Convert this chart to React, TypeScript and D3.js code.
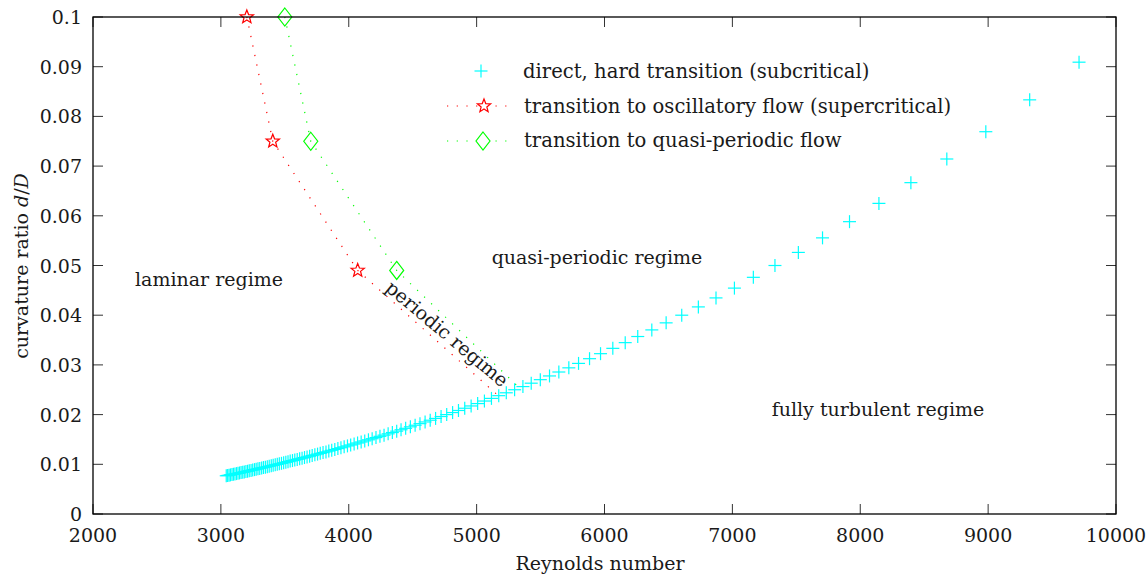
import React from "react";
import * as d3 from "d3";

// ---- data ----
const subcriticalRe = [
  9711, 9325, 8982, 8677, 8396, 8146, 7916, 7705, 7516, 7333,
  7164, 7016, 6872, 6734, 6604, 6482, 6370, 6260, 6162, 6065,
  5969, 5883, 5797, 5721, 5643, 5570, 5498, 5427, 5362, 5297,
  5232, 5173, 5116, 5061, 5008, 4957, 4907, 4858, 4812, 4766,
  4722, 4679, 4637, 4597, 4557, 4519, 4482, 4445, 4409, 4375,
  4341, 4308, 4276, 4244, 4213, 4183, 4154, 4125, 4097, 4069,
  4042, 4015, 3990, 3964, 3939, 3915, 3891, 3867, 3844, 3822,
  3799, 3777, 3756, 3735, 3714, 3694, 3674, 3654, 3635, 3616,
  3597, 3578, 3560, 3542, 3525, 3508, 3491, 3474, 3457, 3441,
  3425, 3409, 3394, 3378, 3363, 3348, 3333, 3319, 3304, 3290,
  3276, 3263, 3249, 3236, 3222, 3209, 3196, 3183, 3171, 3158,
  3146, 3134, 3122, 3110, 3098, 3087, 3075, 3064, 3053, 3042,
];
const subcriticalRatio = [
  0.09091, 0.08333, 0.07692, 0.07143, 0.06667, 0.0625, 0.05882, 0.05556, 0.05263, 0.05,
  0.04762, 0.04545, 0.04348, 0.04167, 0.04, 0.03846, 0.03704, 0.03571, 0.03448, 0.03333,
  0.03226, 0.03125, 0.0303, 0.02941, 0.02857, 0.02778, 0.02703, 0.02632, 0.02564, 0.025,
  0.02439, 0.02381, 0.02326, 0.02273, 0.02222, 0.02174, 0.02128, 0.02083, 0.02041, 0.02,
  0.01961, 0.01923, 0.01887, 0.01852, 0.01818, 0.01786, 0.01754, 0.01724, 0.01695, 0.01667,
  0.01639, 0.01613, 0.01587, 0.01563, 0.01538, 0.01515, 0.01493, 0.01471, 0.01449, 0.01429,
  0.01408, 0.01389, 0.0137, 0.01351, 0.01333, 0.01316, 0.01299, 0.01282, 0.01266, 0.0125,
  0.01235, 0.0122, 0.01205, 0.0119, 0.01176, 0.01163, 0.01149, 0.01136, 0.01124, 0.01111,
  0.01099, 0.01087, 0.01075, 0.01064, 0.01053, 0.01042, 0.01031, 0.0102, 0.0101, 0.01,
  0.0099, 0.0098, 0.00971, 0.00962, 0.00952, 0.00943, 0.00935, 0.00926, 0.00917, 0.00909,
  0.00901, 0.00893, 0.00885, 0.00877, 0.0087, 0.00862, 0.00855, 0.00847, 0.0084, 0.00833,
  0.00826, 0.0082, 0.00813, 0.00806, 0.008, 0.00794, 0.00787, 0.00781, 0.00775, 0.00769,
];

// transition to oscillatory flow (supercritical); last point meets subcritical curve (no marker)
const oscillatoryRe = [3203, 3406, 4070, 5170];
const oscillatoryRatio = [0.1, 0.075, 0.049, 0.0238];
const oscillatoryMarked = [true, true, true, false];

// transition to quasi-periodic flow
const quasiRe = [3500, 3703, 4375, 5330];
const quasiRatio = [0.1, 0.075, 0.049, 0.0255];
const quasiMarked = [true, true, true, false];

const xTicks = [2000, 3000, 4000, 5000, 6000, 7000, 8000, 9000, 10000];
const yTicks = [0, 0.01, 0.02, 0.03, 0.04, 0.05, 0.06, 0.07, 0.08, 0.09, 0.1];
const yTickLabels = ["0", "0.01", "0.02", "0.03", "0.04", "0.05", "0.06", "0.07", "0.08", "0.09", "0.1"];

const legendLabels = [
  "direct, hard transition (subcritical)",
  "transition to oscillatory flow (supercritical)",
  "transition to quasi-periodic flow",
];

// ---- layout ----
const W = 1148;
const H = 574;
const L = 93, R = 1116, T = 17, B = 514;
const FONT = "'DejaVu Serif', serif";
const FS = 19;
const FS_LEG = 19.6;
const CYAN = "#00ffff";
const RED = "#ff0000";
const GREEN = "#00ff00";
const INK = "#1a1a1a";

const x = d3.scaleLinear().domain([2000, 10000]).range([L, R]);
const y = d3.scaleLinear().domain([0, 0.1]).range([B, T]);

function starPath(cx: number, cy: number, ro = 7, ri = 3): string {
  const pts: string[] = [];
  for (let i = 0; i < 10; i++) {
    const r = i % 2 === 0 ? ro : ri;
    const a = -Math.PI / 2 + (i * Math.PI) / 5;
    pts.push(`${(cx + r * Math.cos(a)).toFixed(2)},${(cy + r * Math.sin(a)).toFixed(2)}`);
  }
  return "M" + pts.join("L") + "Z";
}
function diamondPath(cx: number, cy: number, hw = 7, hh = 9): string {
  return `M${cx},${cy - hh}L${cx + hw},${cy}L${cx},${cy + hh}L${cx - hw},${cy}Z`;
}
function Cross({ cx, cy }: { cx: number; cy: number }) {
  const s = 6.5;
  return (
    <g stroke={CYAN} strokeWidth={1.2}>
      <line x1={cx - s} x2={cx + s} y1={cy} y2={cy} />
      <line x1={cx} x2={cx} y1={cy - s} y2={cy + s} />
    </g>
  );
}

export default function App() {
  const line = d3.line<[number, number]>().x((d) => x(d[0])).y((d) => y(d[1]));
  const oscPts = oscillatoryRe.map((r, i) => [r, oscillatoryRatio[i]] as [number, number]);
  const quasiPts = quasiRe.map((r, i) => [r, quasiRatio[i]] as [number, number]);
  const tickLen = 10;

  return (
    <svg
      width={W}
      height={H}
      style={{ position: "absolute", left: 0, top: 0, background: "#fff" }}
      fontFamily={FONT}
    >
      <rect x={0} y={0} width={W} height={H} fill="#fff" />
      {/* ticks */}
      <g stroke="#333" strokeWidth={1}>
        {xTicks.map((t) => (
          <g key={"xt" + t}>
            <line x1={x(t)} x2={x(t)} y1={B} y2={B - tickLen} />
            <line x1={x(t)} x2={x(t)} y1={T} y2={T + tickLen} />
          </g>
        ))}
        {yTicks.map((t) => (
          <g key={"yt" + t}>
            <line x1={L} x2={L + tickLen} y1={y(t)} y2={y(t)} />
            <line x1={R} x2={R - tickLen} y1={y(t)} y2={y(t)} />
          </g>
        ))}
      </g>
      {/* tick labels */}
      <g fill={INK} fontSize={FS}>
        {xTicks.map((t) => (
          <text key={"xl" + t} x={x(t)} y={542} textAnchor="middle">
            {String(t)}
          </text>
        ))}
        {yTicks.map((t, i) => (
          <text key={"yl" + t} x={82} y={y(t) + 7} textAnchor="end">
            {yTickLabels[i]}
          </text>
        ))}
      </g>
      {/* axis titles */}
      <text x={600} y={570} textAnchor="middle" fontSize={FS} fill={INK}>
        Reynolds number
      </text>
      <text
        transform={`translate(28, ${266}) rotate(-90)`}
        textAnchor="middle"
        fontSize={FS}
        fill={INK}
      >
        curvature ratio <tspan fontStyle="italic">d</tspan>/<tspan fontStyle="italic">D</tspan>
      </text>

      {/* series: dotted lines */}
      <path d={line(oscPts) || ""} fill="none" stroke={RED} strokeWidth={1.2} strokeDasharray="1.2,8.5" />
      <path d={line(quasiPts) || ""} fill="none" stroke={GREEN} strokeWidth={1.2} strokeDasharray="1.2,8.5" />

      {/* subcritical crosses */}
      {subcriticalRe.map((r, i) => (
        <Cross key={"c" + i} cx={x(r)} cy={y(subcriticalRatio[i])} />
      ))}

      {/* markers */}
      {oscPts.map((p, i) =>
        oscillatoryMarked[i] ? (
          <path key={"s" + i} d={starPath(x(p[0]), y(p[1]))} fill="none" stroke={RED} strokeWidth={1.2} />
        ) : null
      )}
      {quasiPts.map((p, i) =>
        quasiMarked[i] ? (
          <path key={"d" + i} d={diamondPath(x(p[0]), y(p[1]))} fill="none" stroke={GREEN} strokeWidth={1.2} />
        ) : null
      )}

      {/* frame */}
      <rect x={L} y={T} width={R - L} height={B - T} fill="none" stroke="#000" strokeWidth={1.3} />

      {/* region labels */}
      <g fill={INK} fontSize={FS}>
        <text x={209} y={286} textAnchor="middle">laminar regime</text>
        <text x={597} y={264} textAnchor="middle">quasi-periodic regime</text>
        <text x={878} y={416} textAnchor="middle">fully turbulent regime</text>
        <text transform="translate(446,335) rotate(40)" textAnchor="middle" dominantBaseline="middle">
          periodic regime
        </text>
      </g>

      {/* legend */}
      <g fontSize={FS_LEG} fill={INK}>
        <Cross cx={481} cy={71} />
        <text x={523} y={78}>{legendLabels[0]}</text>
        <line x1={447} x2={513} y1={106} y2={106} stroke={RED} strokeWidth={1.2} strokeDasharray="1.2,8.5" />
        <path d={starPath(484, 106)} fill="#fff" stroke={RED} strokeWidth={1.2} />
        <text x={524} y={113}>{legendLabels[1]}</text>
        <line x1={447} x2={513} y1={141} y2={141} stroke={GREEN} strokeWidth={1.2} strokeDasharray="1.2,8.5" />
        <path d={diamondPath(483, 141)} fill="#fff" stroke={GREEN} strokeWidth={1.2} />
        <text x={524} y={147}>{legendLabels[2]}</text>
      </g>
    </svg>
  );
}
